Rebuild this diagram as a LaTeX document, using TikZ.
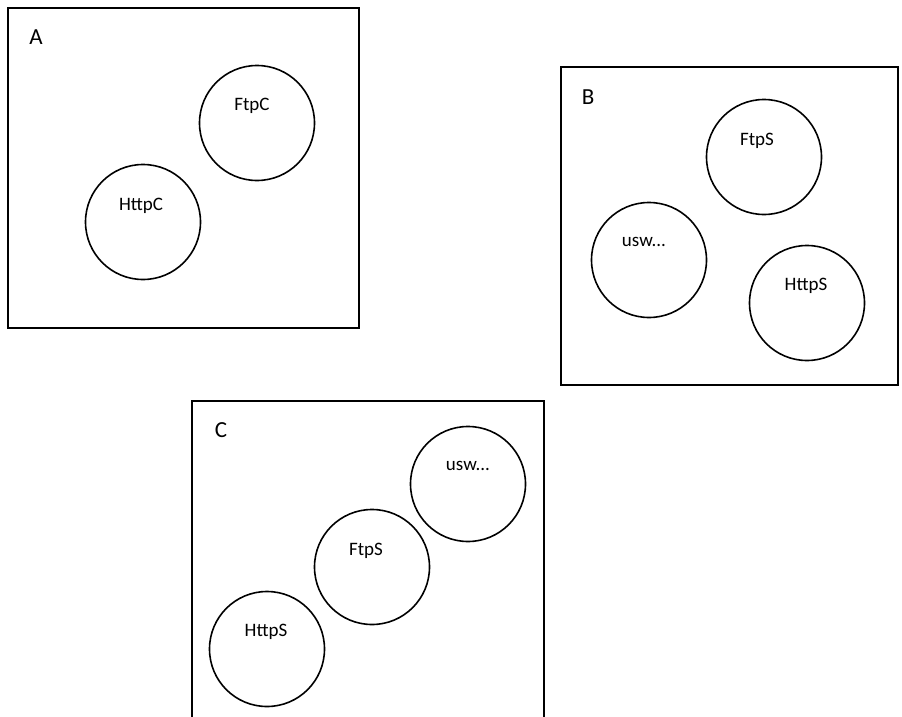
\documentclass[tikz,border=0pt]{standalone}
\usepackage{fontspec}
\setmainfont{Carlito}
\begin{document}
\begin{tikzpicture}[x=1pt,y=-1pt,
  frame/.style={draw=black,line width=1.6pt},
  blob/.style={draw=black,line width=1.6pt,circle,minimum size=115pt,inner sep=0pt},
  lbl/.style={font=\fontsize{19}{22}\selectfont,inner sep=0pt},
  title/.style={font=\fontsize{23}{26}\selectfont,inner sep=0pt}]
\useasboundingbox (0,0) rectangle (902,717);
\clip (0,0) rectangle (902,717);

% Group A
\draw[frame] (8,8) rectangle (359,328);
\node[title] (tA) at (36,37) {A};
\node[blob] (ftpc) at (257,123) {};
\node[lbl] (ftpcL) at (252,106) {FtpC};
\node[blob] (httpc) at (143,222) {};
\node[lbl] (httpcL) at (141,206) {HttpC};

% Group B
\draw[frame] (561,67) rectangle (898,385);
\node[title] (tB) at (588,97) {B};
\node[blob] (ftpsB) at (764,157) {};
\node[lbl] (ftpsBL) at (757,141) {FtpS};
\node[blob] (uswB) at (649,260) {};
\node[lbl] (uswBL) at (644,242) {usw...};
\node[blob] (httpsB) at (807,303) {};
\node[lbl] (httpsBL) at (806,286) {HttpS};

% Group C (lower edge runs past the page)
\draw[frame] (192,740) -- (192,401) -- (544,401) -- (544,740);
\node[title] (tC) at (221,430) {C};
\node[blob] (uswC) at (468,484) {};
\node[lbl] (uswCL) at (468,466) {usw...};
\node[blob] (ftpsC) at (372,567) {};
\node[lbl] (ftpsCL) at (366,551) {FtpS};
\node[blob] (httpsC) at (267,649) {};
\node[lbl] (httpsCL) at (266,632) {HttpS};
\end{tikzpicture}
\end{document}
